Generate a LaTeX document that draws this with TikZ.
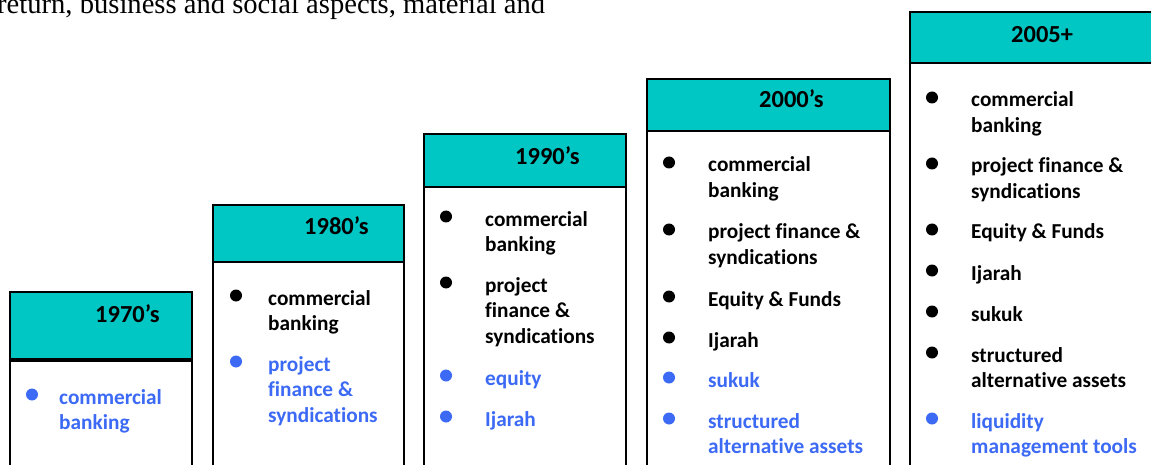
\documentclass[tikz,border=0pt]{standalone}
\usepackage{fontspec}
\newfontfamily\carl{Carlito}[Ligatures=CommonOff]
\newfontfamily\tms{Liberation Serif}
\definecolor{tealhdr}{RGB}{0,199,196}
\definecolor{bluetxt}{RGB}{60,106,245}
\tikzset{
  bodybox/.style={draw=black, line width=2pt, fill=white},
  hdrbox/.style={draw=black, line width=2pt, fill=tealhdr},
  hdrtext/.style={anchor=base west, inner sep=0pt, font=\carl\bfseries\fontsize{24.5}{28}\selectfont},
  itemtext/.style={anchor=base west, inner sep=0pt, font=\carl\bfseries\fontsize{21.3}{25.8}\selectfont},
  dot/.style={circle, inner sep=0pt, minimum size=12pt},
}
\newcommand\entry[6]{%
  \node[dot, fill=#5] (#1b) at (#2,#4-9.5) {};
  \node[itemtext, text=#5] (#1) at (#3,#4) {\vtop{#6}};}
\begin{document}
\begin{tikzpicture}[x=1pt,y=-1pt]
\useasboundingbox (0,0) rectangle (1151,465);
\clip (0,0) rectangle (1151,465);
% top serif text (cut by the top edge, as in the reference)
\node[anchor=base west, inner sep=0pt, font=\tms\fontsize{28.6}{30}\selectfont] (toptext) at (-3,14) {return, business and social aspects, material and};
% box 1
\draw[bodybox] (10,292) rectangle (192,490);
\draw[hdrbox] (10,292) rectangle (192,360);
\draw[line width=3.5pt] (10,360) -- (192,360);
\node[hdrtext] (h1) at (95,322.5) {1970’s};
\entry{a1}{32}{59}{404}{bluetxt}{\hbox{commercial}\hbox{banking}}
% box 2
\draw[bodybox] (213,205) rectangle (404,490);
\draw[hdrbox] (213,205) rectangle (404,262);
\node[hdrtext] (h2) at (304,235) {1980’s};
\entry{b1}{236}{268}{305}{black}{\hbox{commercial}\hbox{banking}}
\entry{b2}{236}{268}{371}{bluetxt}{\hbox{project}\hbox{finance \&}\hbox{syndications}}
% box 3
\draw[bodybox] (424,134) rectangle (626,490);
\draw[hdrbox] (424,134) rectangle (626,187);
\node[hdrtext] (h3) at (515,165) {1990’s};
\entry{c1}{446}{485}{226}{black}{\hbox{commercial}\hbox{banking}}
\entry{c2}{446}{485}{292}{black}{\hbox{project}\hbox{finance \&}\hbox{syndications}}
\entry{c3}{446}{485}{385}{bluetxt}{\hbox{equity}}
\entry{c4}{446}{485}{426}{bluetxt}{\hbox{Ijarah}}
% box 4
\draw[bodybox] (647,79) rectangle (890,490);
\draw[hdrbox] (647,79) rectangle (890,131);
\node[hdrtext] (h4) at (759,108) {2000’s};
\entry{d1}{669}{708}{172}{black}{\hbox{commercial}\hbox{banking}}
\entry{d2}{669}{708}{239}{black}{\hbox{project finance \&}\hbox{syndications}}
\entry{d3}{669}{708}{306}{black}{\hbox{Equity \& Funds}}
\entry{d4}{669}{708}{347}{black}{\hbox{Ijarah}}
\entry{d5}{669}{708}{387}{bluetxt}{\hbox{sukuk}}
\entry{d6}{669}{708}{428}{bluetxt}{\hbox{structured}\hbox{alternative assets}}
% box 5
\draw[bodybox] (910,12) rectangle (1180,490);
\draw[hdrbox] (910,12) rectangle (1180,63);
\node[hdrtext] (h5) at (1011,43) {2005+};
\entry{e1}{932}{971}{107}{black}{\hbox{commercial}\hbox{banking}}
\entry{e2}{932}{971}{173}{black}{\hbox{project finance \&}\hbox{syndications}}
\entry{e3}{932}{971}{239}{black}{\hbox{Equity \& Funds}}
\entry{e4}{932}{971}{280}{black}{\hbox{Ijarah}}
\entry{e5}{932}{971}{321}{black}{\hbox{sukuk}}
\entry{e6}{932}{971}{362}{black}{\hbox{structured}\hbox{alternative assets}}
\entry{e7}{932}{971}{428}{bluetxt}{\hbox{liquidity}\hbox{management tools}}
\end{tikzpicture}
\end{document}
